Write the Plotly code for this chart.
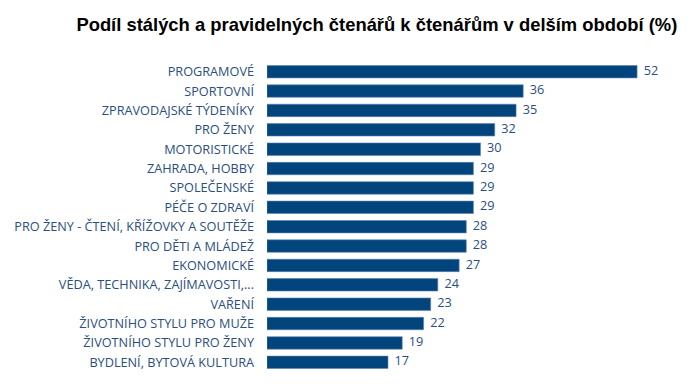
import plotly.graph_objects as go

categories = [
    "PROGRAMOVÉ",
    "SPORTOVNÍ",
    "ZPRAVODAJSKÉ TÝDENÍKY",
    "PRO ŽENY",
    "MOTORISTICKÉ",
    "ZAHRADA, HOBBY",
    "SPOLEČENSKÉ",
    "PÉČE O ZDRAVÍ",
    "PRO ŽENY - ČTENÍ, KŘÍŽOVKY A SOUTĚŽE",
    "PRO DĚTI A MLÁDEŽ",
    "EKONOMICKÉ",
    "VĚDA, TECHNIKA, ZAJÍMAVOSTI,...",
    "VAŘENÍ",
    "ŽIVOTNÍHO STYLU PRO MUŽE",
    "ŽIVOTNÍHO STYLU PRO ŽENY",
    "BYDLENÍ, BYTOVÁ KULTURA",
]
values = [52, 36, 35, 32, 30, 29, 29, 29, 28, 28, 27, 24, 23, 22, 19, 17]

title_text = "Podíl stálých a pravidelných čtenářů k čtenářům v delším období (%)"

fig = go.Figure()
fig.add_trace(
    go.Bar(
        x=values,
        y=categories,
        orientation="h",
        marker=dict(color="#02457D", line=dict(color="#5A82AE", width=0.6)),
        hoverinfo="x+y",
    )
)
fig.add_trace(
    go.Scatter(
        x=values,
        y=categories,
        mode="text",
        text=[f"  {v}" for v in values],
        textposition="middle right",
        textfont=dict(family="Open Sans", size=12.7, color="#2A4E7E"),
        cliponaxis=False,
        hoverinfo="skip",
    )
)

fig.update_layout(
    width=692,
    height=384,
    paper_bgcolor="white",
    plot_bgcolor="white",
    margin=dict(l=257, r=6, t=54, b=20),
    bargap=0.36,
    showlegend=False,
    title=dict(
        text=title_text,
        x=0.533,
        xanchor="center",
        y=0.956,
        yanchor="middle",
        font=dict(family="Liberation Sans, Arial", size=18.4, color="black", weight="bold"),
    ),
)
fig.update_xaxes(range=[0, 60], visible=False)
fig.update_yaxes(
    categoryorder="array",
    categoryarray=categories,
    range=[len(categories) - 0.5, -0.5],
    autorange=False,
    showgrid=False,
    showline=False,
    zeroline=False,
    ticks="",
    ticklabelstandoff=12,
    tickfont=dict(family="Open Sans", size=12.7, color="#2A4E7E"),
)

fig.write_html("out.html")
